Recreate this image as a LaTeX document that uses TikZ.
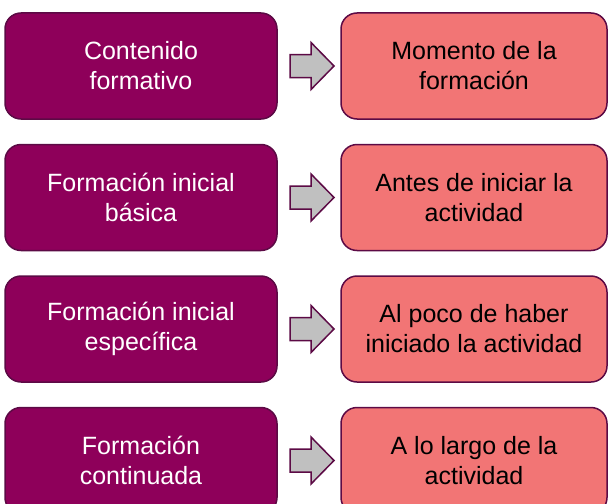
\documentclass[tikz,border=0pt]{standalone}
\usepackage{fontspec}
\setmainfont{Liberation Sans}
\usepackage{tikz}
\usepackage{xcolor}
\usetikzlibrary{positioning}

\definecolor{plum}{HTML}{8E005A}
\definecolor{plumline}{HTML}{5C0A45}
\definecolor{salmon}{HTML}{F27575}
\definecolor{arrgray}{HTML}{C0C0C0}

\begin{document}
\begin{tikzpicture}[
    x=1pt, y=-1pt,
    font=\fontsize{25}{30}\selectfont,
    leftbox/.style={draw=plumline, line width=1.5pt, fill=plum, text=white, rounded corners=16pt, align=center, minimum width=272pt, minimum height=106pt, inner sep=2pt},
    rightbox/.style={draw=plumline, line width=1.5pt, fill=salmon, text=black, rounded corners=16pt, align=center, minimum width=266pt, minimum height=106pt, inner sep=2pt},
    blockarr/.style={draw=plumline, line width=1.5pt, fill=arrgray, line join=miter}
]
\useasboundingbox (0,0) rectangle (609,503);
\clip (0,0) rectangle (609,503);

\node[leftbox] (cont) at (141,66) {Contenido\\formativo};
\node[leftbox, below=24pt of cont] (basica) {Formación inicial\\básica};
\node[leftbox, below=24pt of basica] (espec) {Formación inicial\\específica};
\node[leftbox, below=24pt of espec] (contin) {Formación\\continuada};

\node[rightbox] (momento) at (474,66) {Momento de la\\formación};
\node[rightbox, below=24pt of momento] (antes) {Antes de iniciar la\\actividad};
\node[rightbox, below=24pt of antes] (poco) {Al poco de haber\\iniciado la actividad};
\node[rightbox, below=24pt of poco] (largo) {A lo largo de la\\actividad};

% block arrows between the two columns
\path (cont.east) -- (momento.west) coordinate[midway] (m1);
\path (basica.east) -- (antes.west) coordinate[midway] (m2);
\path (espec.east) -- (poco.west) coordinate[midway] (m3);
\path (contin.east) -- (largo.west) coordinate[midway] (m4);
\draw[blockarr] ([shift={(-19,-11.5)}]m1) -- ++(21,0) -- ++(0,-12) -- ++(23,23.5) -- ++(-23,23.5) -- ++(0,-12) -- ++(-21,0) -- cycle;
\draw[blockarr] ([shift={(-19,-11.5)}]m2) -- ++(21,0) -- ++(0,-12) -- ++(23,23.5) -- ++(-23,23.5) -- ++(0,-12) -- ++(-21,0) -- cycle;
\draw[blockarr] ([shift={(-19,-11.5)}]m3) -- ++(21,0) -- ++(0,-12) -- ++(23,23.5) -- ++(-23,23.5) -- ++(0,-12) -- ++(-21,0) -- cycle;
\draw[blockarr] ([shift={(-19,-11.5)}]m4) -- ++(21,0) -- ++(0,-12) -- ++(23,23.5) -- ++(-23,23.5) -- ++(0,-12) -- ++(-21,0) -- cycle;
\end{tikzpicture}
\end{document}
